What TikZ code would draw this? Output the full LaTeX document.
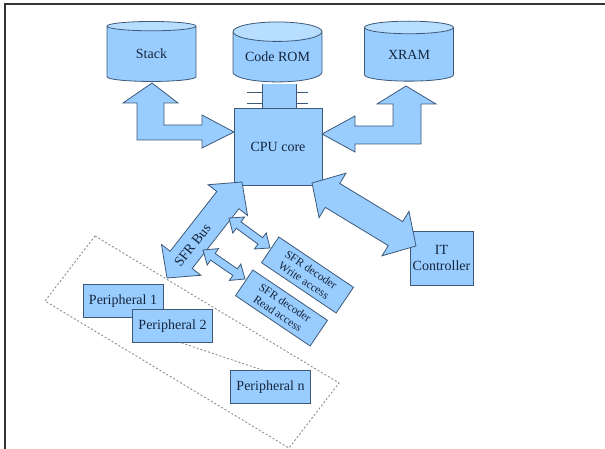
\documentclass[tikz,border=0pt]{standalone}
\usepackage{fontspec}
\setmainfont{Liberation Serif}
\usetikzlibrary{shapes.geometric,calc}

\definecolor{boxfill}{HTML}{99CCFF}
\definecolor{boxedge}{HTML}{3C5A78}
\definecolor{boxtext}{HTML}{15263C}
\definecolor{cyltop}{HTML}{B8DEFF}
\definecolor{framegray}{HTML}{8C8C8C}

% fat double arrow: style, from, to, shaft half width, head half width, head length
\newcommand{\fatarrow}[6]{%
  \coordinate (fa1) at ($(#2)!#6!(#3)$);
  \coordinate (fa2) at ($(#3)!#6!(#2)$);
  \draw[#1] (#2) -- ($(fa1)!#5!90:(#3)$) -- ($(fa1)!#4!90:(#3)$)
    -- ($(fa2)!#4!-90:(#2)$) -- ($(fa2)!#5!-90:(#2)$) -- (#3)
    -- ($(fa2)!#5!90:(#2)$) -- ($(fa2)!#4!90:(#2)$)
    -- ($(fa1)!#4!-90:(#3)$) -- ($(fa1)!#5!-90:(#3)$) -- cycle;}

\begin{document}
\begin{tikzpicture}[x=1pt,y=-1pt,
    blk/.style={draw=boxedge,fill=boxfill,line width=0.8pt,text=boxtext,font=\fontsize{14}{16}\selectfont},
    cyl/.style={draw=boxedge,line width=0.8pt,text=boxtext,font=\fontsize{14}{16}\selectfont,
      cylinder,shape border rotate=90,aspect=0.3,cylinder uses custom fill,
      cylinder body fill=boxfill,cylinder end fill=cyltop,minimum width=89pt,minimum height=60pt,inner sep=0pt},
    dec/.style={blk,rotate=-34,align=center,minimum width=90pt,minimum height=31pt,inner sep=1pt,
      font=\fontsize{11.5}{13}\selectfont},
    per/.style={blk,minimum width=80pt,minimum height=33pt,inner sep=1pt},
    fat/.style={draw=boxedge,fill=boxfill,line width=0.8pt,line join=miter},
    grp/.style={draw=framegray,dash pattern=on 2pt off 2pt,line width=0.9pt}]
  \useasboundingbox (0,0) rectangle (605,449);
  \draw[line width=1.2pt,draw=black!80] (5,449) -- (5,4) -- (605,4);

  % peripherals group
  \draw[grp] (95,236) -- (339,383) -- (289,448) -- (45,301) -- cycle;
  \node[per] (p1) at (123,301) {Peripheral 1};
  \node[per] (p2) at (172.5,326) {Peripheral 2};
  \node[per] (pn) at (270.5,387) {Peripheral n};
  \draw[grp] ([xshift=9pt]p2.south) -- ([xshift=-8pt]pn.north);

  % code rom link
  \fill[boxfill] (262,84) rectangle (296,108);
  \draw[draw=boxedge,line width=0.8pt] (262,84) -- (262,108) (296,84) -- (296,108)
    (247,92) -- (262,92) (247,103) -- (262,103) (296,92) -- (308,92) (296,103) -- (308,103);

  \node[cyl] (stack) at (151.5,54) {Stack};
  \node[cyl] (rom) at (277.5,57) {Code ROM};
  \node[cyl] (xram) at (409,54.5) {XRAM};
  \node[blk,minimum width=88pt,minimum height=77pt] (cpu) at (278,146.5) {CPU core};
  \node[blk,align=center,minimum width=63pt,minimum height=54pt,inner sep=0pt] (itc) at (441.5,258) {IT\\Controller};
  \node[dec] (wdec) at (307.5,275) {SFR decoder\\Write access};
  \node[dec] (rdec) at (281.5,308) {SFR decoder\\Read access};

  % stack and xram arrows
  \draw[fat] (152,83) -- (178,103) -- (164,103) -- (164,125) -- (202,125) -- (202,115) -- (234,132)
    -- (202,148) -- (202,140) -- (137,140) -- (137,103) -- (123,103) -- cycle;
  \draw[fat] (406,86) -- (436,104) -- (421,104) -- (421,144) -- (355,144) -- (355,152) -- (322,134)
    -- (355,116) -- (355,126) -- (393,126) -- (393,104) -- (377,104) -- cycle;

  % bus arrows
  \coordinate (bus1) at (242,182);
  \coordinate (bus2) at (167,278);
  \fatarrow{fat}{bus1}{bus2}{14pt}{25pt}{23pt}
  \node[text=boxtext,rotate=52,font=\fontsize{14}{16}\selectfont] (buslbl) at ($(bus2)!0.34!(bus1)$) {SFR Bus};
  \coordinate (it1) at (312,183);
  \coordinate (it2) at (416,246);
  \fatarrow{fat}{it1}{it2}{14pt}{26pt}{24pt}
  \coordinate (wr1) at (229,218);
  \coordinate (wr2) at (270,248);
  \fatarrow{fat}{wr1}{wr2}{4pt}{10pt}{12pt}
  \coordinate (rd1) at (203,250);
  \coordinate (rd2) at (245,279);
  \fatarrow{fat}{rd1}{rd2}{4pt}{10pt}{12pt}
\end{tikzpicture}
\end{document}
